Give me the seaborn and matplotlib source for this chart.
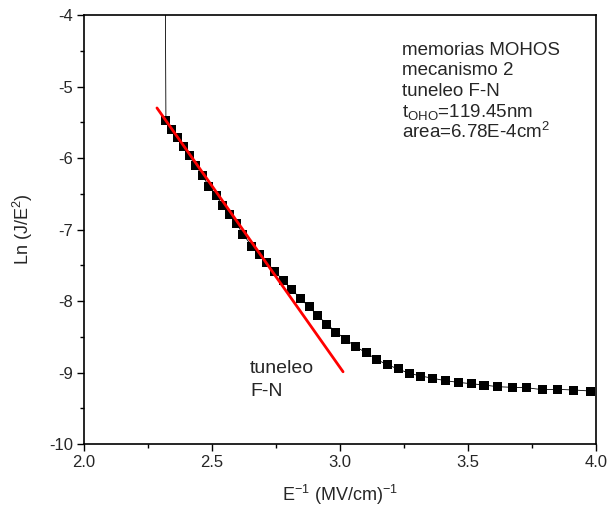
import matplotlib
matplotlib.use("Agg")
import matplotlib.pyplot as plt
import seaborn as sns
import pandas as pd
from matplotlib.ticker import MultipleLocator

# Data
# first value is the off-scale point that produces the vertical line
inv_field = [2.316, 2.320, 2.343, 2.364, 2.389, 2.411, 2.435, 2.462, 2.488, 2.516, 2.542,
             2.568, 2.596, 2.621, 2.655, 2.684, 2.714, 2.746, 2.779, 2.811, 2.844,
             2.879, 2.913, 2.948, 2.984, 3.022, 3.061, 3.102, 3.143, 3.185, 3.227,
             3.270, 3.315, 3.362, 3.411, 3.461, 3.512, 3.5625, 3.617, 3.672, 3.729,
             3.790, 3.848, 3.914, 3.979]
ln_j_e2 = [-2.5, -5.478, -5.599, -5.720, -5.842, -5.972, -6.098, -6.245, -6.392, -6.524, -6.671,
           -6.797, -6.923, -7.063, -7.231, -7.343, -7.459, -7.590, -7.716, -7.836, -7.962,
           -8.080, -8.206, -8.322, -8.434, -8.536, -8.639, -8.723, -8.818, -8.891, -8.951,
           -9.011, -9.049, -9.080, -9.115, -9.137, -9.157, -9.175, -9.199, -9.207, -9.213,
           -9.240, -9.235, -9.245, -9.259]
fit_x = [2.285, 3.012]
fit_y = [-5.30, -8.99]

xtick_vals = [2.0, 2.5, 3.0, 3.5, 4.0]
ytick_vals = [-10, -9, -8, -7, -6, -5, -4]

df = pd.DataFrame({"x": inv_field, "y": ln_j_e2})
df_pts = df.iloc[1:]
df_fit = pd.DataFrame({"x": fit_x, "y": fit_y})

sns.set_style("ticks")
plt.rcParams["font.family"] = ["Liberation Sans", "DejaVu Sans"]
plt.rcParams["mathtext.fontset"] = "custom"
plt.rcParams["mathtext.rm"] = "Liberation Sans"
plt.rcParams["mathtext.it"] = "Liberation Sans"

fig = plt.figure(figsize=(6.09, 5.14), dpi=100)
ax = fig.add_axes([84/609, 1-444/514, (596-84)/609, (444-15)/514])

sns.lineplot(data=df, x="x", y="y", sort=False, color="black", lw=0.6, ax=ax, estimator=None)
sns.scatterplot(data=df_pts, x="x", y="y", marker="s", s=42, color="black", edgecolor="none",
                ax=ax, zorder=3)
sns.lineplot(data=df_fit, x="x", y="y", sort=False, color="#ff0000", lw=2.0, ax=ax,
             estimator=None, zorder=4)

ax.set_xlim(2.0, 4.0)
ax.set_ylim(-10, -4)
ax.set_xticks(xtick_vals)
ax.set_xticklabels([f"{v:.1f}" for v in xtick_vals])
ax.set_yticks(ytick_vals)
ax.set_yticklabels([f"{v}" for v in ytick_vals])
ax.xaxis.set_minor_locator(MultipleLocator(0.25))
ax.yaxis.set_minor_locator(MultipleLocator(0.5))
ax.tick_params(which="major", direction="out", length=5, width=1, labelsize=12,
               color="black", pad=3)
ax.tick_params(which="minor", direction="out", length=3, width=1, color="black")
for sp in ax.spines.values():
    sp.set_linewidth(1.2)
    sp.set_color("black")

ax.set_xlabel("E$^{-1}$ (MV/cm)$^{-1}$", fontsize=13, labelpad=9)
ax.set_ylabel("Ln (J/E$^{2}$)", fontsize=13, labelpad=10)

txt_lines = ["memorias MOHOS", "mecanismo 2", "tuneleo F-N",
             "t$_{\\mathrm{OHO}}$=119.45nm", "area=6.78E-4cm$^{2}$"]
offsets = [0.0, 0.287, 0.574, 0.861, 1.165]
for t, off in zip(txt_lines, offsets):
    ax.text(3.242, -4.559 - off, t, fontsize=13.5, ha="left", va="baseline")

ax.text(2.648, -9.007, "tuneleo", fontsize=14, ha="left", va="baseline")
ax.text(2.648, -9.329, "F-N", fontsize=14, ha="left", va="baseline")

fig.savefig("out.png", dpi=100)
